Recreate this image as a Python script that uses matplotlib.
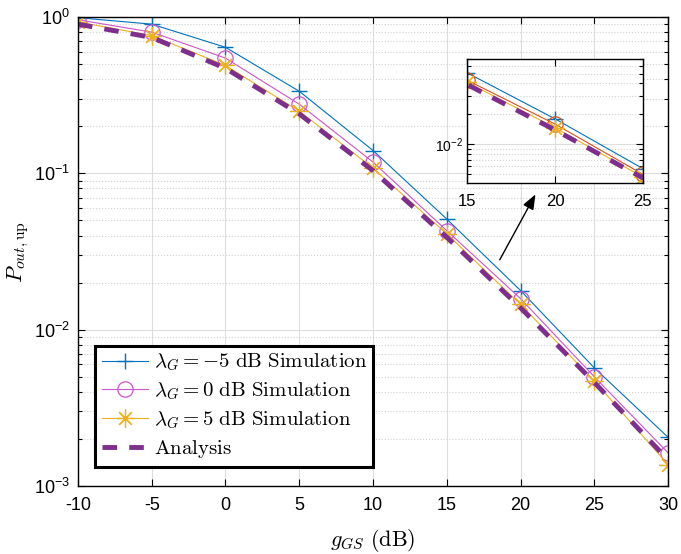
import numpy as np
import matplotlib
matplotlib.use('Agg')
import matplotlib.pyplot as plt
from matplotlib.ticker import FuncFormatter, LogLocator, NullFormatter

plt.rcParams['font.family'] = ['Liberation Sans', 'DejaVu Sans']
plt.rcParams['mathtext.fontset'] = 'cm'
plt.rcParams['axes.unicode_minus'] = False

# --- dados (P_out,up vs g_GS) ---
g_gs = [-10, -5, 0, 5, 10, 15, 20, 25, 30]
sim_m5 = [0.99, 0.90, 0.64, 0.335, 0.140, 0.051, 0.0178, 0.0057, 0.00205]
sim_0 = [0.96, 0.80, 0.546, 0.277, 0.118, 0.043, 0.0158, 0.0050, 0.00163]
sim_5 = [0.93, 0.76, 0.49, 0.250, 0.108, 0.041, 0.0145, 0.0047, 0.00137]
analise = [0.90, 0.74, 0.47, 0.240, 0.104, 0.039, 0.0138, 0.0046, 0.00147]

rotulos = [r'$\lambda_G = -5\ \mathrm{dB\ Simulation}$',
           r'$\lambda_G = 0\ \mathrm{dB\ Simulation}$',
           r'$\lambda_G = 5\ \mathrm{dB\ Simulation}$',
           r'$\mathrm{Analysis}$']

AZUL = '#0072BD'
MAGENTA = '#CC55CC'
LARANJA = '#D95319'
AMARELO = '#EDB120'
ROXO = '#7E2F8E'
ASTERISCO = (8, 2, 0)


def potencia(v, p):
    return r'$\mathdefault{10^{%d}}$' % int(round(np.log10(v)))


def estilo_eixo(ax):
    ax.set_yscale('log')
    ax.tick_params(which='both', direction='in', top=True, right=True,
                   width=0.8, labelsize=12)
    ax.tick_params(which='major', length=5)
    ax.tick_params(which='minor', length=3)
    ax.yaxis.set_major_locator(LogLocator(base=10, numticks=10))
    ax.yaxis.set_minor_locator(LogLocator(base=10, subs=np.arange(2, 10), numticks=10))
    ax.yaxis.set_major_formatter(FuncFormatter(potencia))
    ax.yaxis.set_minor_formatter(NullFormatter())
    ax.grid(True, which='major', color='#dddddd', linewidth=0.8)
    ax.grid(True, which='minor', axis='y', color='#d0d0d0', linestyle=':', linewidth=0.8)
    ax.set_axisbelow(True)
    for s in ax.spines.values():
        s.set_linewidth(1.0)


fig = plt.figure(figsize=(6.81, 5.54), dpi=100)
ax = fig.add_axes([0.1145, 0.1227, 0.8665, 0.8466])
estilo_eixo(ax)
ax.tick_params(axis='x', pad=8, labelsize=13)
ax.tick_params(axis='y', pad=6, labelsize=13)

ax.plot(g_gs, sim_m5, color=AZUL, lw=0.8, marker='+', ms=12, mew=1.0, label=rotulos[0])
ax.plot(g_gs, sim_0, color=MAGENTA, lw=0.8, marker='o', ms=11, mew=0.9,
        mfc='none', label=rotulos[1])
ax.plot(g_gs, sim_5, color=AMARELO, lw=0.8, marker=ASTERISCO, ms=13, mew=0.9, label=rotulos[2])
ax.plot(g_gs, analise, color=ROXO, lw=3.5, linestyle=(0, (3, 2.5)), label=rotulos[3])

ax.set_xlim(-10, 30)
ax.set_ylim(1e-3, 1)
ax.set_xticks(range(-10, 31, 5))
ax.set_xlabel(r'$g_{GS}\ \mathrm{(dB)}$', fontsize=16, labelpad=9)
ax.set_ylabel(r'$P_{out,\mathrm{up}}$', fontsize=16, labelpad=2)

leg = ax.legend(loc='lower left', bbox_to_anchor=(0.012, 0.019), fontsize=15,
                handlelength=2.2, handletextpad=0.3, borderpad=0.3,
                labelspacing=0.35, fancybox=False, framealpha=1, edgecolor='black')
leg.get_frame().set_linewidth(2.2)

# --- zoom (15 a 25 dB) ---
axi = fig.add_axes([0.686, 0.6697, 0.258, 0.2238])
estilo_eixo(axi)
axi.plot(g_gs, sim_m5, color=AZUL, lw=0.8, marker='+', ms=12, mew=1.0)
axi.plot(g_gs, sim_0, color=LARANJA, lw=0.8, marker='o', ms=11, mew=0.9, mfc='none')
axi.plot(g_gs, sim_5, color=AMARELO, lw=0.8, marker=ASTERISCO, ms=13, mew=0.9)
axi.plot(g_gs, analise, color=ROXO, lw=3.5, linestyle=(0, (3, 2.5)))
axi.set_xlim(15, 25)
axi.set_ylim(4.1e-3, 7e-2)
axi.set_xticks([15, 20, 25])
axi.tick_params(axis='x', labelsize=12, pad=8)
axi.yaxis.set_major_formatter(FuncFormatter(
    lambda v, p: potencia(v, p) if abs(np.log10(v) + 2) < 0.01 else ''))
axi.tick_params(axis='y', labelsize=10, pad=3)

ax.annotate('', xy=(21.1, 0.076), xytext=(18.5, 0.027),
            arrowprops=dict(arrowstyle='-|>,head_width=0.35,head_length=0.9',
                            color='black', lw=1.0))

fig.savefig('out.png', dpi=100)
